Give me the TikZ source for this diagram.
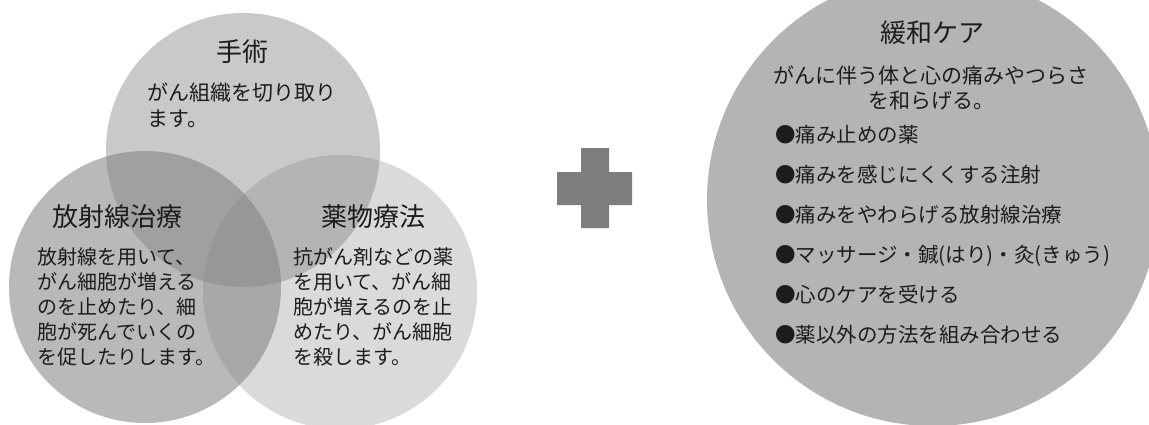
\documentclass[tikz,border=0pt]{standalone}
\usepackage{fontspec}
\newfontfamily\jp{Noto Sans CJK JP}
\definecolor{txt}{HTML}{1C1C1C}
\definecolor{venn}{HTML}{808080}
\definecolor{bigc}{HTML}{B4B4B4}
\definecolor{plusc}{HTML}{7E7E7E}
\begin{document}
\begin{tikzpicture}[x=1pt,y=-1pt,
  title/.style={font=\jp\fontsize{26}{30}\selectfont, text=txt, inner sep=0pt},
  body/.style={font=\jp\fontsize{20}{25}\selectfont, text=txt, inner sep=0pt, align=left},
  topbody/.style={font=\jp\fontsize{21}{26}\selectfont, text=txt, inner sep=0pt, align=left},
  bigtitle/.style={font=\jp\fontsize{26}{30}\selectfont, text=txt, inner sep=0pt},
  bigbody/.style={font=\jp\fontsize{21}{25}\selectfont, text=txt, inner sep=0pt, align=center},
  bullets/.style={font=\jp\fontsize{20.5}{40}\selectfont, text=txt, inner sep=0pt, align=left}]
\useasboundingbox (0,0) rectangle (1149,424);
\fill[white] (0,0) rectangle (1149,424);
% Venn circles
\fill[venn, fill opacity=0.29] (340,292) circle[radius=137pt];
\fill[venn, fill opacity=0.42] (243,150) circle[radius=137pt];
\fill[venn, fill opacity=0.55] (145,287) circle[radius=136pt];
% texts of the Venn diagram
\node[title] (t1) at (242,52) {手術};
\node[topbody, anchor=west] (b1) at (147,105) {がん組織を切り取り\\ます。};
\node[title] (t2) at (117,217) {放射線治療};
\node[body, anchor=west] (b2) at (37,307) {放射線を用いて、\\がん細胞が増える\\のを止めたり、細\\胞が死んでいくの\\を促したりします。};
\node[title] (t3) at (373,217) {薬物療法};
\node[body, anchor=west] (b3) at (293,307) {抗がん剤などの薬\\を用いて、がん細\\胞が増えるのを止\\めたり、がん細胞\\を殺します。};
% plus sign
\fill[plusc] (581,148) -- (609,148) -- (609,172) -- (632,172) -- (632,205) -- (609,205)
  -- (609,228) -- (581,228) -- (581,205) -- (557,205) -- (557,172) -- (581,172) -- cycle;
% big circle
\fill[bigc] (933,200) circle[radius=226pt];
\node[bigtitle] (t4) at (932,33) {緩和ケア};
\node[bigbody] (b4) at (931,88) {がんに伴う体と心の痛みやつらさ\\を和らげる。};
\node[bullets, anchor=west] (l4) at (775,235) {●痛み止めの薬\\●痛みを感じにくくする注射\\●痛みをやわらげる放射線治療\\●マッサージ・鍼(はり)・灸(きゅう)\\●心のケアを受ける\\●薬以外の方法を組み合わせる};
\end{tikzpicture}
\end{document}
